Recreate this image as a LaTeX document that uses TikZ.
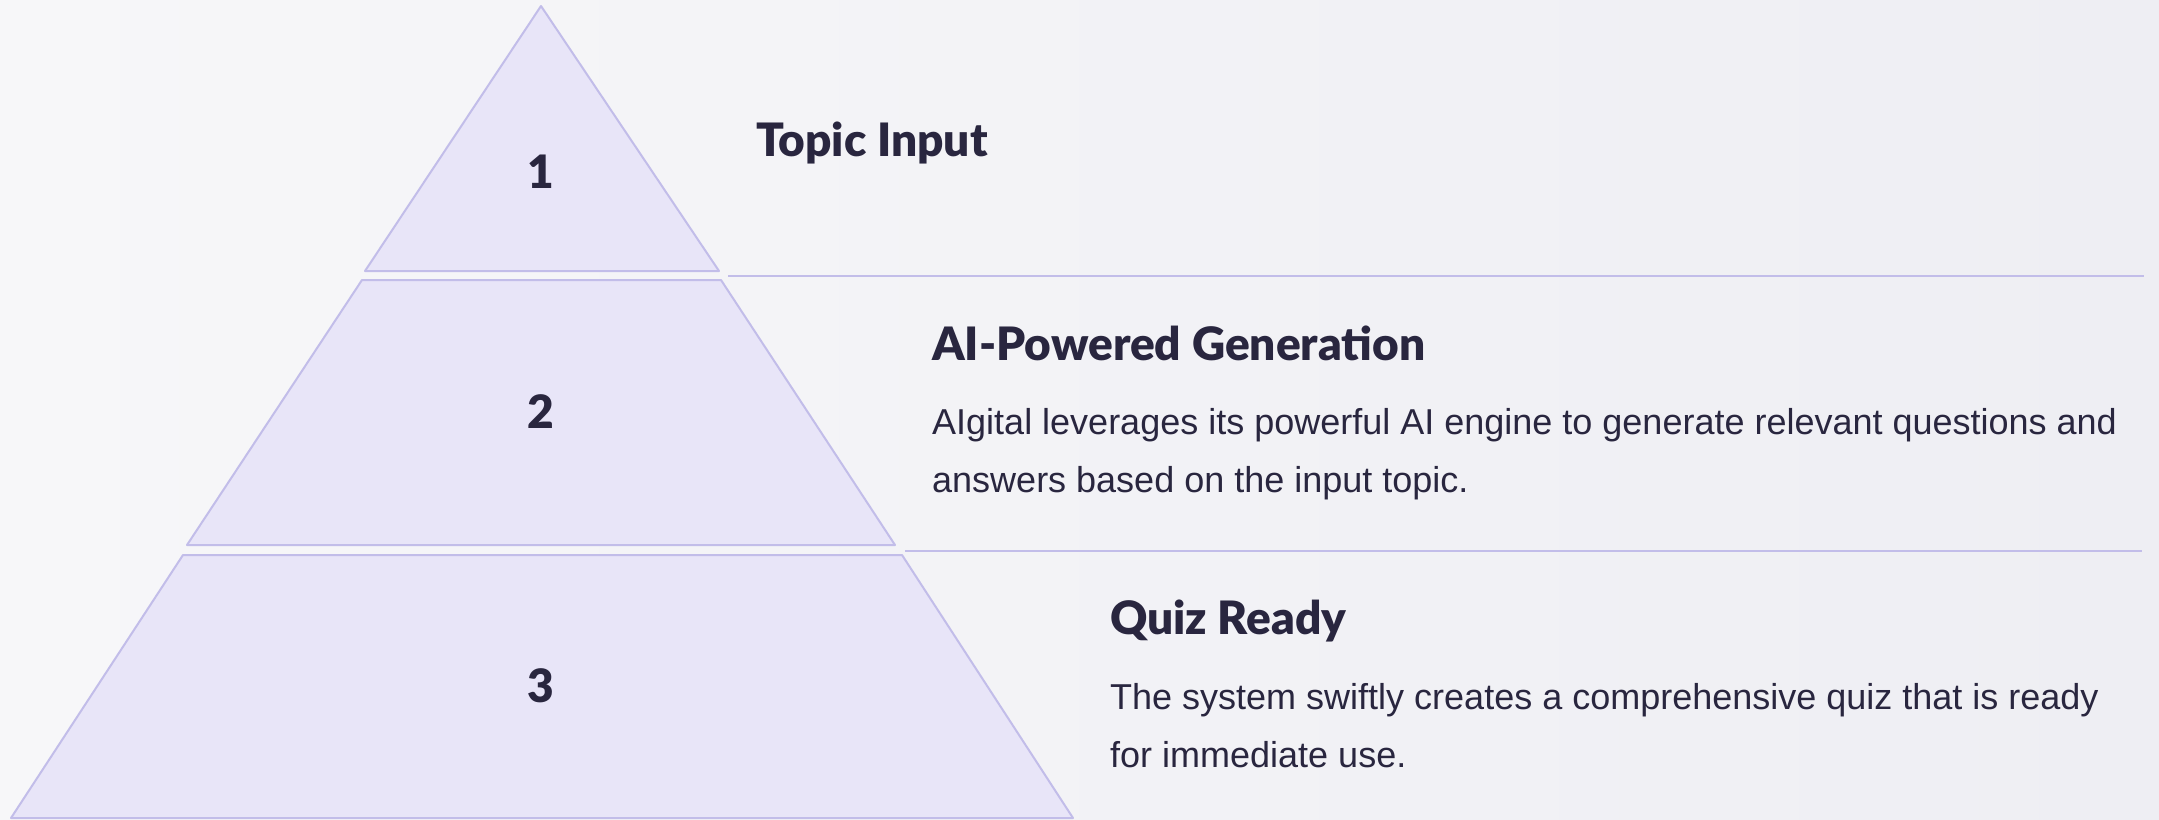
\documentclass[tikz,border=0pt]{standalone}
\usepackage{fontspec}
\setmainfont{Liberation Sans}
\newfontfamily\headfont{Lato Black}
\usepackage{xcolor}
\usepackage{tikz}

\definecolor{tierfill}{HTML}{E8E5F8}
\definecolor{tierline}{HTML}{C2BDE9}
\definecolor{inkdark}{HTML}{29263F}
\definecolor{bgleft}{HTML}{F7F7F9}
\definecolor{bgright}{HTML}{EEEEF3}

\begin{document}
\begin{tikzpicture}[x=1pt,y=-1pt]
	\tikzstyle{every node}+=[inner sep=0pt, text=inkdark]
	\tikzstyle{tier}=[fill=tierfill, draw=tierline, line width=2pt, line join=round]
	\tikzstyle{rule}=[draw=tierline, line width=2pt]
	\tikzstyle{num}=[font=\headfont\fontsize{46}{46}\selectfont]
	\tikzstyle{title}=[font=\headfont\fontsize{46}{46}\selectfont, anchor=base west]
	\tikzstyle{desc}=[font=\fontsize{36}{58}\selectfont, align=left, anchor=base west]
	\useasboundingbox (0,0) rectangle (2159,819);
	\shade [left color=bgleft, right color=bgright] (0,0) rectangle (2159,819);
	% pyramid
	\draw [tier] (541,6) -- (719,271) -- (365,271) -- cycle;
	\draw [tier] (362,280) -- (721,280) -- (895,545) -- (187,545) -- cycle;
	\draw [tier] (183,555) -- (902,555) -- (1073,818) -- (11,818) -- cycle;
	\node [num] (n1) at (541,172) {1};
	\node [num] (n2) at (541,412) {2};
	\node [num] (n3) at (541,686) {3};
	% dividers
	\coordinate (r1a) at (728,276);
	\coordinate (r1b) at (2144,276);
	\coordinate (r2a) at (905,551);
	\coordinate (r2b) at (2142,551);
	\draw [rule] (r1a) -- (r1b);
	\draw [rule] (r2a) -- (r2b);
	% texts
	\node [title] (t1) at (756,156) {Topic Input};
	\node [title] (t2) at (932,360) {AI-Powered Generation};
	\node [desc] (d2) at (932,492) {AIgital leverages its powerful AI engine to generate relevant questions and\\answers based on the input topic.};
	\node [title] (t3) at (1110,634) {Quiz Ready};
	\node [desc] (d3) at (1110,767) {The system swiftly creates a comprehensive quiz that is ready\\for immediate use.};
\end{tikzpicture}
\end{document}
